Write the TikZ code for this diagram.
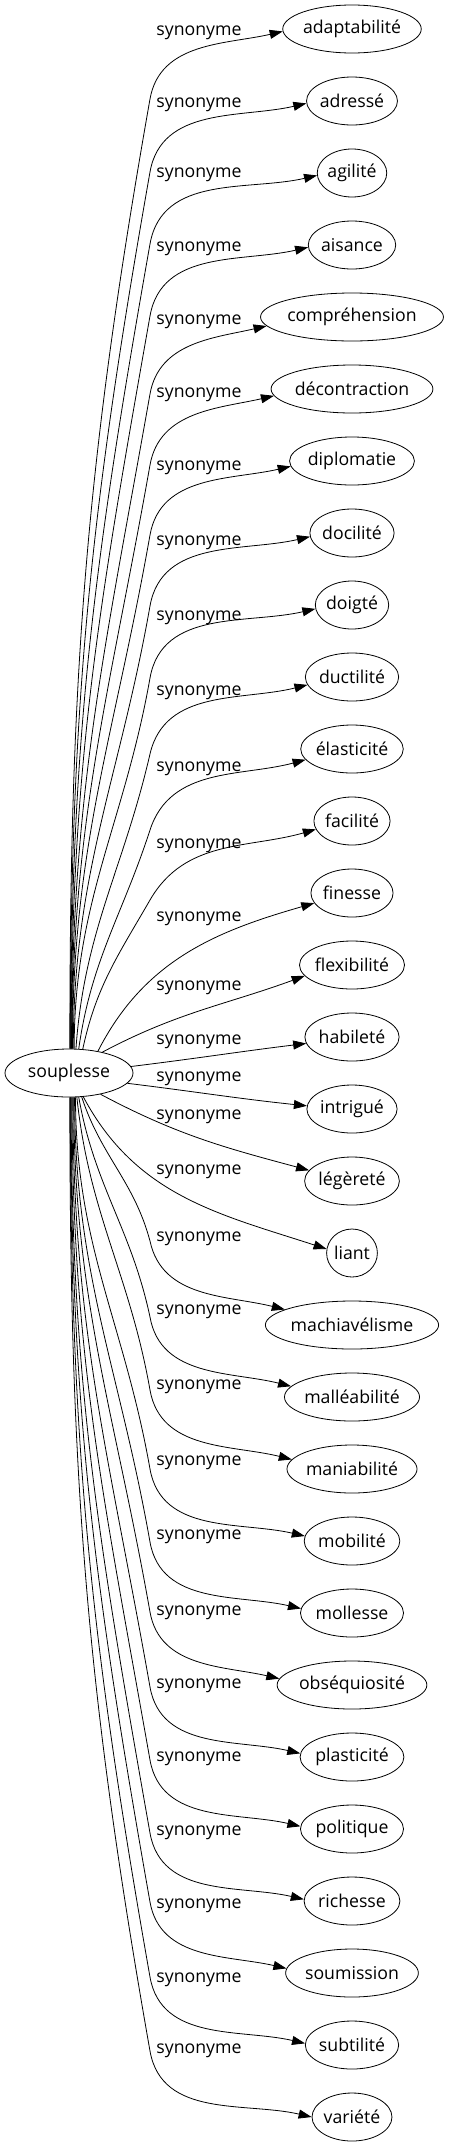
\documentclass[tikz,border=0pt]{standalone}
\usepackage{fontspec}
\setmainfont{Open Sans}
\usetikzlibrary{arrows.meta,shapes.geometric}
\newlength{\wordlen}
\newcommand{\wordfont}{\fontsize{17.7}{21}\selectfont}

\begin{document}
\begin{tikzpicture}[x=1pt, y=1pt, font=\wordfont,
  word/.style={ellipse, draw, line width=0.8pt, inner sep=0pt, minimum height=48pt},
  rel/.style={inner sep=0pt},
  link/.style={line width=0.8pt, -{Triangle[length=13pt, width=9pt]}}]

\useasboundingbox (0,0) rectangle (452,-2147);

\node[word, minimum width=128pt] (s) at (69,-1073) {souplesse};

% the synonyms, top to bottom, and the label of each edge
\foreach \w/\ly [count=\i from 0] in {adaptabilité/33, adressé/105, agilité/175, aisance/249,
  compréhension/322, décontraction/395, diplomatie/468, docilité/543, doigté/618, ductilité/693,
  élasticité/769, facilité/846, finesse/919, flexibilité/988, habileté/1042, intrigué/1079,
  légèreté/1117, liant/1172, machiavélisme/1239, malléabilité/1312, maniabilité/1387,
  mobilité/1463, mollesse/1537, obséquiosité/1613, plasticité/1686, politique/1759,
  richesse/1833, soumission/1906, subtilité/1980, variété/2051}{%
  \settowidth{\wordlen}{\wordfont\w}
  \node[word, minimum width=1.27*\wordlen+30pt] (t\i) at (352,{-29-72*\i}) {\w};
  \node[rel] (l\i) at (199,-\ly) {synonyme};
}

% upper edges: up the left side, bend under the label
\foreach \i/\a/\o/\p/\q/\d/\e/\n in {
  0/88/90/-100/80/70/182/193, 1/87/90/-100/80/71/183/193, 2/86/90/-100/80/71/184/193,
  3/85/90/-100/80/71/183/193, 4/84/90/-100/80/77/186/193, 5/83/90/-100/80/76/185/193,
  6/82/90/-100/80/74/185/193, 7/80/90/-100/80/73/185/193, 8/78/90/-100/80/73/186/193,
  9/74/86/-103/77/77/190/194, 10/68/82/-108/72/81/193/195, 11/60/78/-120/60/79/193/196}{%
  \coordinate (b\i) at (150,{-29-72*\i-\d});
  \draw[link] (s.\a) to[out=\o, in=\p] (b\i) to[out=\q, in=\n] (t\i.\e);
}

% edges close to souplesse
\draw[link] (s.37) to[out=63, in=196] (t12.195);
\draw[link] (s.32) to[out=28, in=200] (t13.193);
\draw[link] (s.6) to[out=7, in=187] (t14.188);
\draw[link] (s.-10) to[out=-7, in=174] (t15.176);
\draw[link] (s.-34) to[out=-28, in=165] (t16.166);
\draw[link] (s.-59) to[out=-62, in=162] (t17.171);

% lower edges: down the left side, bend under the label
\foreach \i/\a/\o/\p/\q/\d/\e/\n in {
  18/-62/-72/105/-78/84/167/166, 19/-68/-80/102/-80/80/170/166, 20/-72/-84/100/-80/79/171/166,
  21/-75/-90/100/-80/72/174/167, 22/-77/-90/100/-80/71/175/167, 23/-79/-90/100/-80/73/175/167,
  24/-81/-90/100/-80/70/176/167, 25/-83/-90/100/-80/69/177/167, 26/-85/-90/100/-80/68/178/167,
  27/-86/-90/100/-80/71/176/167, 28/-87/-90/100/-80/68/178/167, 29/-88/-90/100/-80/66/180/167}{%
  \coordinate (b\i) at (150,{-29-72*\i+\d});
  \draw[link] (s.\a) to[out=\o, in=\p] (b\i) to[out=\q, in=\n] (t\i.\e);
}

\end{tikzpicture}
\end{document}
